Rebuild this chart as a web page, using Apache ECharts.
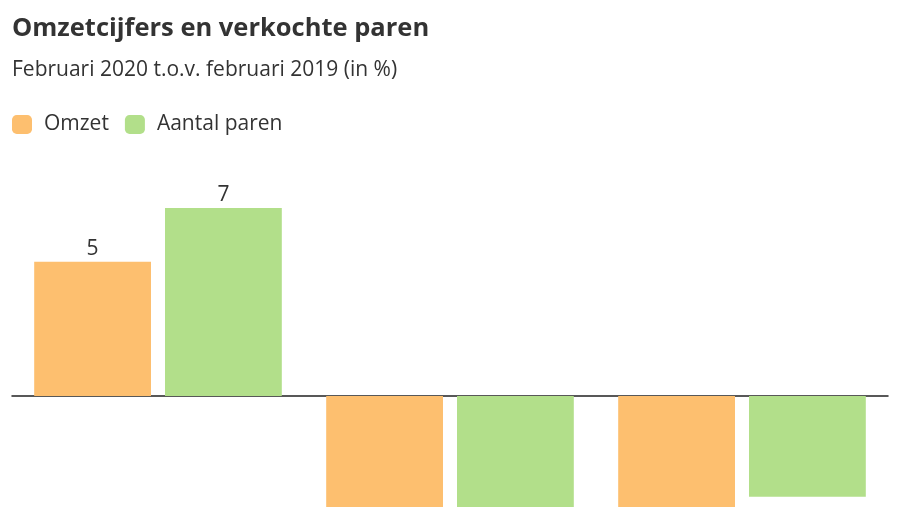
<!DOCTYPE html>
<html>
<head>
<meta charset="utf-8">
<script src="https://cdn.jsdelivr.net/npm/echarts@6/dist/echarts.min.js"></script>
<style>
  html, body { margin: 0; padding: 0; background: #fff; overflow: hidden; width: 900px; height: 507px; }
  #chart { width: 900px; height: 620px; }
</style>
</head>
<body>
<div id="chart"></div>
<script>
const categories = ['Groep 1', 'Groep 2', 'Groep 3'];
const omzet = [5, -6, -6];
const aantalParen = [7, -6, -3.75];
const seriesNames = ['Omzet', 'Aantal paren'];

const chart = echarts.init(document.getElementById('chart'), null, { renderer: 'canvas' });
const FONT = '"Open Sans", "Noto Sans", sans-serif';

const labelCfg = {
  show: true,
  position: 'top',
  distance: 2,
  color: '#333',
  fontSize: 21,
  fontFamily: FONT,
  formatter: p => (p.value >= 0 ? String(Math.round(p.value)) : '')
};

chart.setOption({
  animation: false,
  backgroundColor: '#fff',
  title: [
    {
      text: 'Omzetcijfers en verkochte paren',
      left: 12,
      top: 16,
      padding: 0,
      textStyle: { fontFamily: FONT, fontSize: 25.5, fontWeight: 'bold', color: '#333' }
    },
    {
      text: 'Februari 2020 t.o.v. februari 2019 (in %)',
      left: 12,
      top: 60,
      padding: 0,
      textStyle: { fontFamily: FONT, fontSize: 21, fontWeight: 'normal', color: '#333' }
    }
  ],
  legend: {
    left: 12,
    top: 114,
    padding: 0,
    itemWidth: 20,
    itemHeight: 19,
    itemGap: 16,
    icon: 'roundRect',
    textStyle: { fontFamily: FONT, fontSize: 21, color: '#333', padding: [0, 0, 0, 7] },
    data: seriesNames
  },
  grid: { left: 12, right: 12, top: 181, height: 430 },
  xAxis: {
    type: 'category',
    data: categories,
    axisLine: { show: true, onZero: true, lineStyle: { color: '#222', width: 1.5 } },
    axisTick: { show: false },
    axisLabel: { show: false },
    splitLine: { show: false }
  },
  yAxis: {
    type: 'value',
    min: -8,
    max: 8,
    show: false,
    splitLine: { show: false }
  },
  series: [
    {
      name: seriesNames[0],
      type: 'bar',
      data: omzet,
      barWidth: '40%',
      barGap: '12%',
      itemStyle: { color: '#fdbf6f' },
      label: labelCfg
    },
    {
      name: seriesNames[1],
      type: 'bar',
      data: aantalParen,
      barWidth: '40%',
      barGap: '12%',
      itemStyle: { color: '#b2df8a' },
      label: labelCfg
    }
  ]
});
</script>
</body>
</html>
